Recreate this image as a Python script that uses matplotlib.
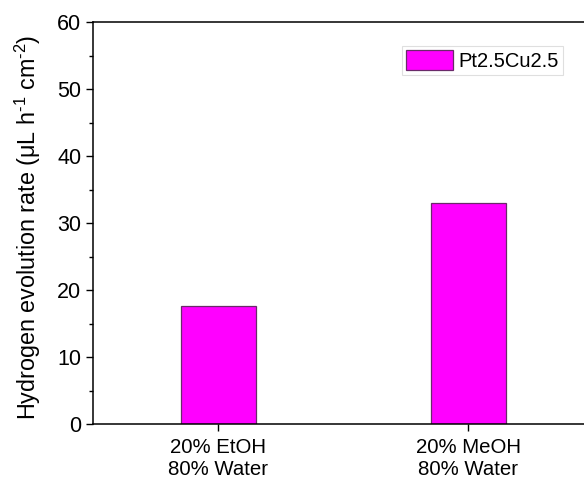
import numpy as np
import matplotlib
matplotlib.use("Agg")
import matplotlib.pyplot as plt

plt.rcParams['font.family'] = ['Liberation Sans', 'DejaVu Sans']
plt.rcParams['mathtext.fontset'] = 'custom'
plt.rcParams['mathtext.rm'] = 'Liberation Sans'
plt.rcParams['mathtext.it'] = 'Liberation Sans'

# data
categories = ["20% EtOH\n80% Water", "20% MeOH\n80% Water"]
rates = [17.6, 33.0]
series_name = "Pt2.5Cu2.5"

fig = plt.figure(figsize=(5.84, 4.79), dpi=100)
# axes runs past the right edge like the original crop
ax = fig.add_axes([93 / 584, 55 / 479, 500 / 584, 402 / 479])

x = np.arange(len(categories))
ax.bar(x, rates, width=0.3, color="#ff00ff", edgecolor="#6a2a6a",
       linewidth=0.9, label=series_name, zorder=2)

ax.set_xlim(-0.5, 1.5)
ax.set_ylim(0, 60)
ax.set_xticks(x)
ax.set_xticklabels(categories, fontsize=14.7, linespacing=1.2)
ax.set_yticks(np.arange(0, 61, 10))
ax.set_yticks(np.arange(5, 60, 10), minor=True)
ax.tick_params(axis='y', labelsize=15.5, direction='out', length=5, width=1)
ax.tick_params(axis='y', which='minor', direction='out', length=3, width=1)
ax.tick_params(axis='x', direction='out', length=5, width=1, pad=5)
for s in ax.spines.values():
    s.set_linewidth(1.1)

ax.set_ylabel(r"Hydrogen evolution rate (μL h$^{\text{-1}}$ cm$^{\text{-2}}$)",
              fontsize=16.8)
ax.yaxis.set_label_coords(-0.099, 0.49)

leg = ax.legend(loc="upper right", bbox_to_anchor=(563 / 584, 1 - 46 / 479),
                bbox_transform=fig.transFigure, fontsize=14.5, frameon=True,
                fancybox=False, handlelength=2.3, handleheight=1.15,
                handletextpad=0.3, borderpad=0.2, borderaxespad=0)
leg.get_frame().set_edgecolor("#d8d8d8")
leg.get_frame().set_linewidth(0.8)

fig.savefig("out.png", dpi=100)
